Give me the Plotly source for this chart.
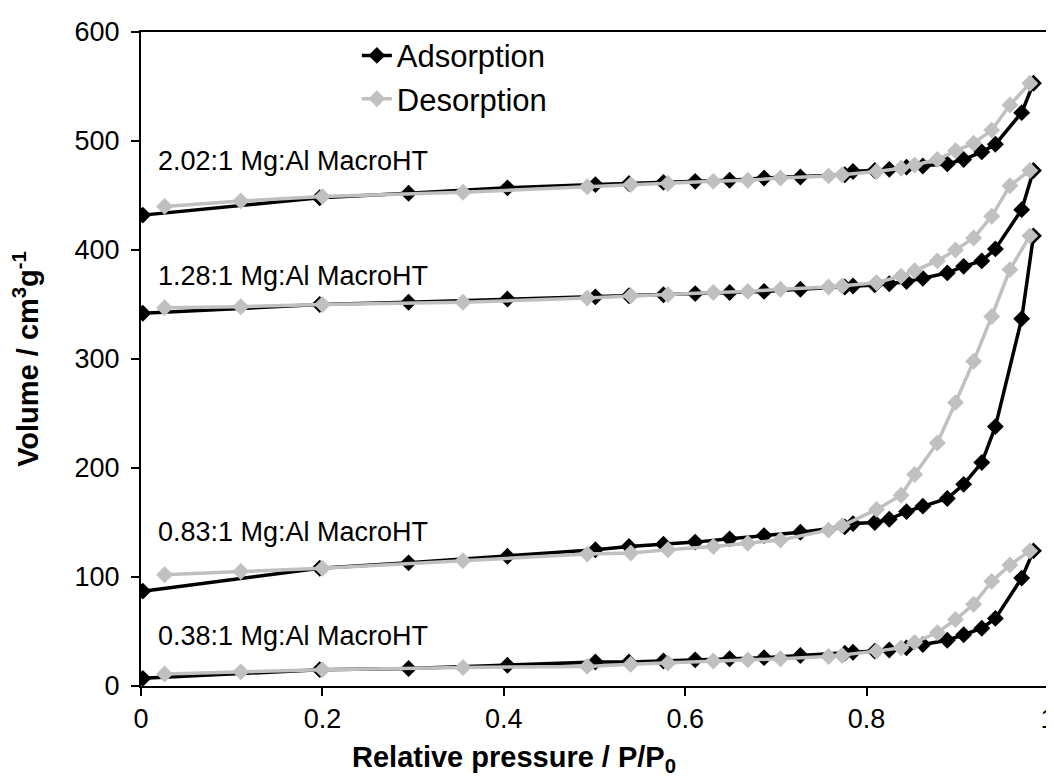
import plotly.graph_objects as go

# Relative pressure points
p_ads = [0.002, 0.197, 0.295, 0.404, 0.501, 0.538, 0.576, 0.611, 0.649, 0.687, 0.727,
         0.776, 0.785, 0.809, 0.825, 0.844, 0.862, 0.889, 0.907, 0.927, 0.942, 0.971, 0.984]
p_des = [0.980, 0.958, 0.938, 0.918, 0.898, 0.878, 0.853, 0.838, 0.811, 0.773, 0.758,
         0.705, 0.669, 0.631, 0.581, 0.540, 0.492, 0.355, 0.200, 0.110, 0.026]

# Volumes (cm3/g), offset isotherms as displayed
ads_038 = [7, 15, 16, 19, 22, 22, 23, 24, 25, 26, 28, 30, 31, 32, 33, 35, 38, 42, 47, 53, 62, 99, 124]
des_038 = [124, 111, 96, 75, 61, 49, 40, 35, 32, 28, 27, 25, 24, 23, 21, 20, 18, 17, 15, 13, 11]

ads_083 = [87, 108, 113, 119, 125, 128, 130, 132, 135, 138, 141, 146, 149, 150, 153, 160, 165,
           172, 185, 205, 238, 337, 413]
des_083 = [413, 382, 339, 298, 260, 223, 194, 175, 162, 147, 143, 134, 131, 128, 125, 122, 121,
           115, 108, 105, 102]

ads_128 = [342, 350, 352, 355, 357, 358, 359, 360, 361, 362, 364, 366, 367, 368, 369, 371, 374,
           379, 385, 390, 401, 437, 473]
des_128 = [473, 459, 431, 411, 400, 390, 381, 376, 370, 367, 366, 364, 362, 361, 359, 358, 356,
           352, 350, 348, 347]

ads_202 = [432, 448, 452, 457, 460, 461, 462, 463, 464, 466, 467, 469, 472, 473, 474, 476, 477,
           479, 483, 490, 497, 526, 553]
des_202 = [553, 533, 510, 498, 491, 483, 478, 475, 472, 469, 468, 466, 464, 463, 461, 460, 458,
           453, 449, 445, 440]

labels = ["0.38:1 Mg:Al MacroHT", "0.83:1 Mg:Al MacroHT",
          "1.28:1 Mg:Al MacroHT", "2.02:1 Mg:Al MacroHT"]
label_y = [46, 141, 376, 482]

ads_sets = [ads_038, ads_083, ads_128, ads_202]
des_sets = [des_038, des_083, des_128, des_202]

FONT = "Arial, Liberation Sans, sans-serif"
BLACK = "#000000"
GREY = "#C0C0C0"

fig = go.Figure()
for i, a in enumerate(ads_sets):
    fig.add_trace(go.Scatter(
        x=p_ads, y=a, mode="lines+markers", name="Adsorption",
        line=dict(color=BLACK, width=3.5),
        marker=dict(symbol="diamond", size=13, color=BLACK),
        showlegend=(i == 3), legendrank=1))
for i, d in enumerate(des_sets):
    fig.add_trace(go.Scatter(
        x=p_des, y=d, mode="lines+markers", name="Desorption",
        line=dict(color=GREY, width=3.5),
        marker=dict(symbol="diamond", size=13, color=GREY),
        showlegend=(i == 3), legendrank=2))

for txt, yy in zip(labels, label_y):
    fig.add_annotation(x=0.017, y=yy, text=txt, showarrow=False, xanchor="left",
                       yanchor="middle", font=dict(family=FONT, size=27, color="black"))

# x-axis title (centred under the chart as in the reference)
fig.add_annotation(xref="paper", yref="paper", x=0.411, y=-0.112,
                   text="<b>Relative pressure / P/P<sub>0</sub></b>", showarrow=False,
                   xanchor="center", yanchor="middle",
                   font=dict(family=FONT, size=29, color="black"))

fig.update_layout(
    width=1054, height=782,
    margin=dict(l=133, r=6, t=24, b=104),
    paper_bgcolor="white", plot_bgcolor="white",
    font=dict(family=FONT, color="black"),
    legend=dict(x=0.238, y=1.005, xanchor="left", yanchor="top",
                font=dict(family=FONT, size=31, color="black"),
                bgcolor="rgba(0,0,0,0)", tracegroupgap=0),
)
fig.update_xaxes(
    range=[0, 1], dtick=0.2, tick0=0,
    showgrid=False, zeroline=False,
    showline=True, linecolor="black", linewidth=2, mirror=True,
    ticks="outside", ticklen=8, tickcolor="black", tickwidth=1.5,
    tickfont=dict(family=FONT, size=27, color="black"),
)
fig.update_yaxes(
    range=[0, 600], dtick=100, tick0=0,
    showgrid=False, zeroline=False,
    showline=True, linecolor="black", linewidth=2, mirror=True,
    ticks="outside", ticklen=8, tickcolor="black", tickwidth=1.5,
    ticklabelstandoff=6,
    tickfont=dict(family=FONT, size=27, color="black"),
    title=dict(text="<b>Volume / cm<sup>3</sup>g<sup>-1</sup></b>",
               font=dict(family=FONT, size=29, color="black"), standoff=30),
)

fig.write_html("out.html")
